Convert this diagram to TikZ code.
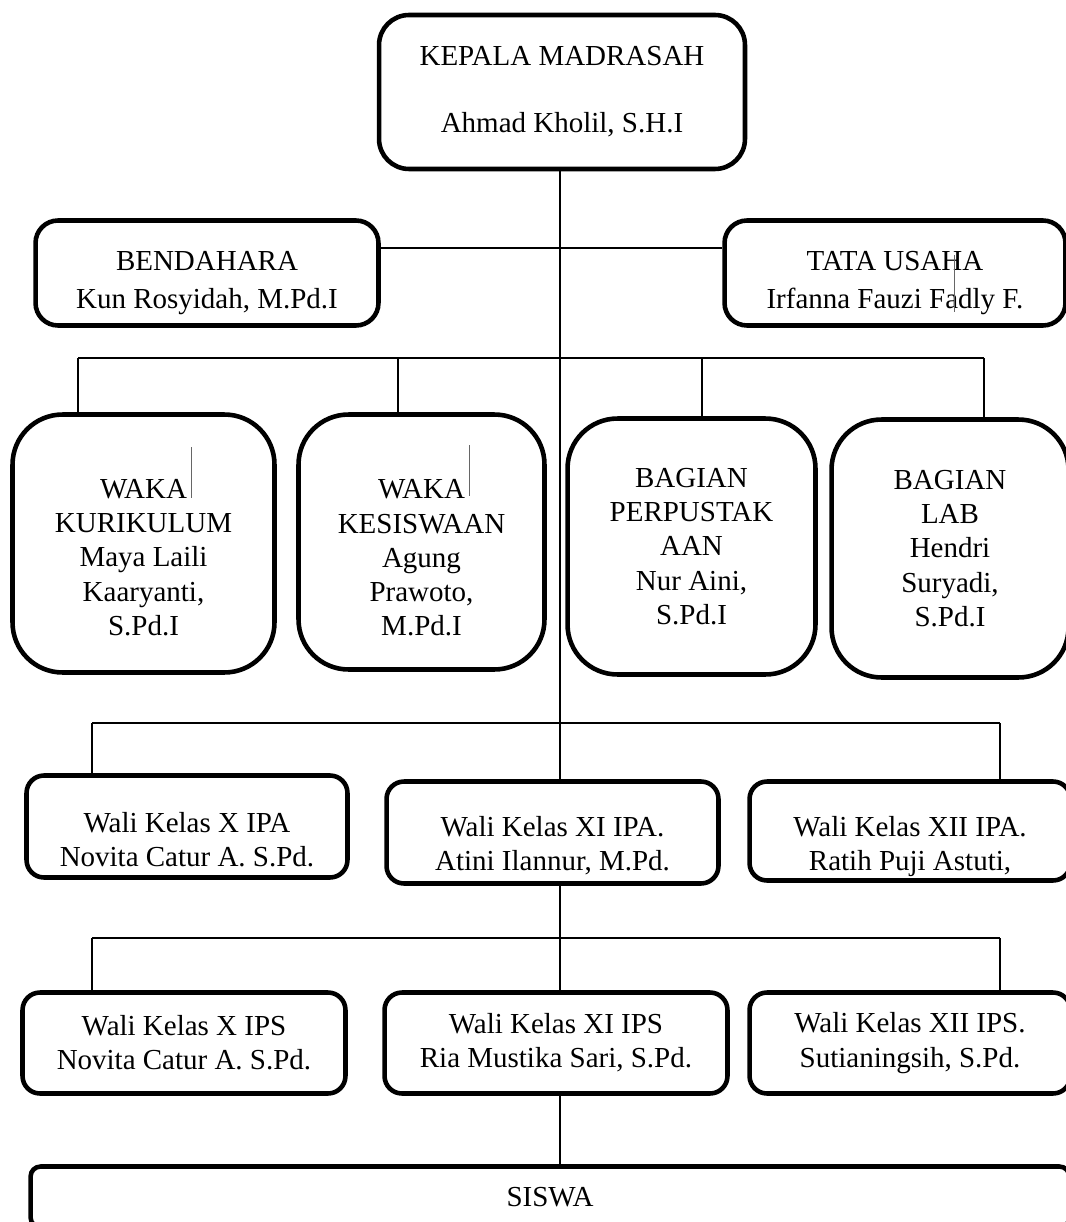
\documentclass[tikz,border=0pt]{standalone}
\usepackage{fontspec}
\setmainfont{Liberation Serif}
\usepackage{tikz}
\usetikzlibrary{calc}

% baris kosong di atas teks supaya teks turun sedikit
\newcommand{\turun}[1]{\mbox{}\\[#1]}

\begin{document}
\begin{tikzpicture}[x=0.02cm, y=-0.02cm,
    kotak/.style={draw, line width=2.6pt, align=center, inner sep=0pt, font=\fontsize{16.5}{19.5}\selectfont},
    garis/.style={line width=0.75pt}]

                    \useasboundingbox (0,0) rectangle (1065,1222);

                    \node[kotak, rounded corners=0.6cm, minimum width=7.32cm, minimum height=3.08cm] (kepala) at (562,92) {KEPALA MADRASAH\\[18.5pt]Ahmad Kholil, S.H.I};
                    \node[kotak, rounded corners=0.45cm, minimum width=6.86cm, minimum height=2.1cm] (bendahara) at (207,273) {\turun{2.9pt}BENDAHARA\\[2pt]Kun Rosyidah, M.Pd.I};
                    \node[kotak, rounded corners=0.45cm, minimum width=6.82cm, minimum height=2.1cm] (tata) at (895,273) {\turun{2.9pt}TATA USAHA\\[2pt]Irfanna Fauzi Fadly F.};

                    \node[kotak, rounded corners=1cm, minimum width=5.24cm, minimum height=5.16cm] (kurikulum) at (143.5,543.5) {\turun{7.3pt}WAKA\\KURIKULUM\\Maya Laili\\Kaaryanti,\\S.Pd.I};
                    \node[kotak, rounded corners=1cm, minimum width=4.92cm, minimum height=5.1cm] (kesiswaan) at (421.5,542) {\turun{9.7pt}WAKA\\KESISWAAN\\Agung\\Prawoto,\\M.Pd.I};
                    \node[kotak, rounded corners=1cm, minimum width=4.96cm, minimum height=5.12cm] (perpus) at (691.5,546.5) {BAGIAN\\PERPUSTAK\\AAN\\Nur Aini,\\S.Pd.I};
                    \node[kotak, rounded corners=1cm, minimum width=4.74cm, minimum height=5.16cm] (lab) at (950,548.5) {BAGIAN\\LAB\\Hendri\\Suryadi,\\S.Pd.I};

                    \node[kotak, rounded corners=0.35cm, minimum width=6.42cm, minimum height=2.04cm] (xipa) at (187,826.5) {\turun{7.3pt}Wali Kelas X IPA\\Novita Catur A. S.Pd.};
                    \node[kotak, rounded corners=0.35cm, minimum width=6.64cm, minimum height=2.04cm] (xiipa) at (552.5,832.5) {\turun{7.3pt}Wali Kelas XI IPA.\\Atini Ilannur, M.Pd.};
                    \node[kotak, rounded corners=0.35cm, minimum width=6.42cm, minimum height=1.98cm] (xiiipa) at (910,831) {\turun{9.5pt}Wali Kelas XII IPA.\\Ratih Puji Astuti,};

                    \node[kotak, rounded corners=0.35cm, minimum width=6.46cm, minimum height=2.02cm] (xips) at (184,1043) {Wali Kelas X IPS\\Novita Catur A. S.Pd.};
                    \node[kotak, rounded corners=0.35cm, minimum width=6.86cm, minimum height=2.02cm] (xiips) at (556,1043) {Wali Kelas XI IPS\\Ria Mustika Sari, S.Pd.};
                    \node[kotak, rounded corners=0.35cm, minimum width=6.42cm, minimum height=2.02cm] (xiiips) at (910,1043) {Wali Kelas XII IPS.\\Sutianingsih, S.Pd.};

                    \node[kotak, rounded corners=0.2cm, minimum width=20.78cm, minimum height=1.22cm] (siswa) at (550,1197) {SISWA};

                    % titik bantu garis
                    \coordinate (tengah) at (560,0);
                    \coordinate (sejajar) at (0,248);
                    \coordinate (w1) at (78,358);
                    \coordinate (w2) at (398,358);
                    \coordinate (w3) at (702,358);
                    \coordinate (w4) at (984,358);
                    \coordinate (k1) at (92,723);
                    \coordinate (k2) at (1000,723);
                    \coordinate (s1) at (92,938);
                    \coordinate (s2) at (1000,938);

                    \draw[garis] (kepala.south -| tengah) -- (xiipa.north -| tengah);
                    \draw[garis] (xiipa.south -| tengah) -- (xiips.north -| tengah);
                    \draw[garis] (xiips.south -| tengah) -- (siswa.north -| tengah);
                    \draw[garis] (bendahara.east |- sejajar) -- (tata.west |- sejajar);

                    \draw[garis] (w1) -- (w4);
                    \draw[garis] (w1) -- (w1 |- kurikulum.north);
                    \draw[garis] (w2) -- (w2 |- kesiswaan.north);
                    \draw[garis] (w3) -- (w3 |- perpus.north);
                    \draw[garis] (w4) -- (w4 |- lab.north);

                    \draw[garis] (k1) -- (k2);
                    \draw[garis] (k1) -- (k1 |- xipa.north);
                    \draw[garis] (k2) -- (k2 |- xiiipa.north);

                    \draw[garis] (s1) -- (s2);
                    \draw[garis] (s1) -- (s1 |- xips.north);
                    \draw[garis] (s2) -- (s2 |- xiiips.north);

                    % garis kecil di dalam kotak
                    \draw[black!60, line width=0.5pt] (191,447) -- (191,498);
                    \draw[black!60, line width=0.5pt] (469,445) -- (469,496);
                    \draw[black!60, line width=0.5pt] (954,255) -- (954,312);

                \end{tikzpicture}
\end{document}
